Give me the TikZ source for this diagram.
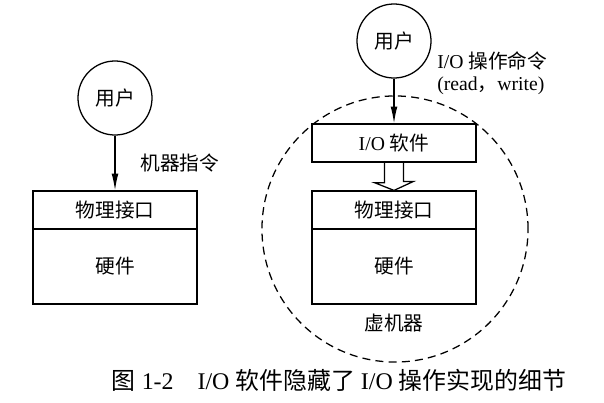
\documentclass[tikz,border=0pt]{standalone}
\usepackage{fontspec}
\setmainfont{Liberation Serif}
\newfontfamily\cjk{Noto Sans CJK SC}
\usetikzlibrary{shapes,arrows,arrows.meta}
\usetikzlibrary{calc}
\usetikzlibrary{positioning}
\tikzstyle{block} = [draw, rectangle, 
    minimum width=4.1cm, minimum height=0.95cm, inner sep=0pt]
\tikzstyle{hwblock} = [block, minimum height=1.875cm]
\tikzstyle{user} = [draw, circle, minimum size=1.85cm, inner sep=0pt]
\tikzstyle{vm} = [draw, circle, dash pattern=on 0.2cm off 0.13cm, minimum size=6.65cm]
\begin{document}
\begin{tikzpicture}[auto, x=0.025cm, y=-0.025cm, >={Latex[length=4.2mm,width=1.7mm]}, line width=0.9pt, every node/.style={font=\fontsize{14}{15.5}\selectfont}]
    \useasboundingbox (0,0) rectangle (604,402);
    % Left side: the user sees the bare machine
    \node [user] (userA) at (115,98) {\cjk 用户};
    \node [block, below of=userA, node distance=2.8cm] (ifaceA) {\cjk 物理接口};
    \node [hwblock, below of=ifaceA, node distance=1.4125cm] (hwA) {\cjk 硬件};

    % Right side: the I/O software wraps the machine
    \node [user] (userB) at (394,41) {\cjk 用户};
    \node [block, below of=userB, node distance=2.55cm] (ioB) {I/O {\cjk 软件}};
    \node [block, below of=ioB, node distance=1.675cm] (ifaceB) {\cjk 物理接口};
    \node [hwblock, below of=ifaceB, node distance=1.4125cm] (hwB) {\cjk 硬件};
    \node [below of=hwB, node distance=1.4125cm] (vmname) {\cjk 虚机器};
    \node [vm] (virtual) at (395,229) {};
    \node [right, align=left] (cmd) at (432,73) {I/O {\cjk 操作命令}\\(read{\cjk ，}write)};

    % Then the connectors
    \draw [->] (userA) -- node [right=0.5cm] {\cjk 机器指令} (ifaceA);
    \draw [->] (userB) -- (ioB);
    \draw (ioB.south) ++(-9.5,0) -- ++(0,20) -- ++(-10,0) -- (ifaceB.north) -- ++(19.5,-9) -- ++(-10,0) -- ++(0,-20);

    \node [font=\fontsize{17}{19}\selectfont] (caption) at (339,380) {{\cjk 图} 1-2\quad I/O {\cjk 软件隐藏了} I/O {\cjk 操作实现的细节}};
\end{tikzpicture}
\end{document}
